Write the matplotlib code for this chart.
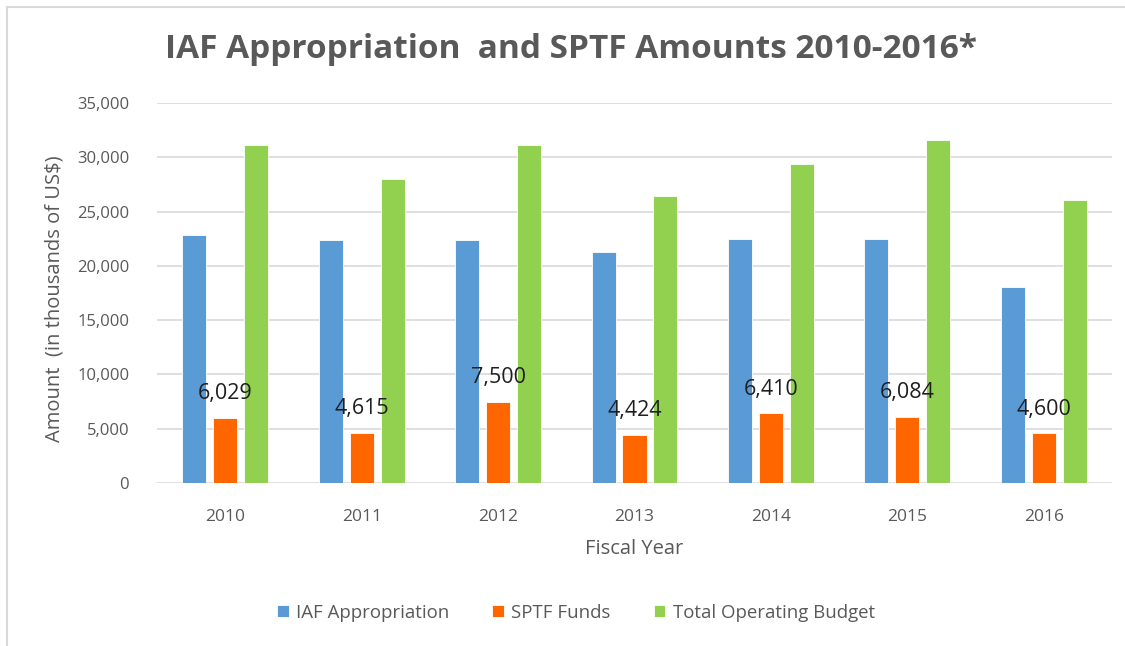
import matplotlib
matplotlib.use("Agg")
import matplotlib.pyplot as plt
from matplotlib.lines import Line2D
import numpy as np

years = ["2010", "2011", "2012", "2013", "2014", "2015", "2016"]
iaf_appropriation = [22850, 22350, 22350, 21300, 22500, 22500, 18050]
sptf_funds = [6029, 4615, 7500, 4424, 6410, 6084, 4600]
total_operating = [31100, 28000, 31100, 26450, 29350, 31550, 26100]
series_names = ["IAF Appropriation", "SPTF Funds", "Total Operating Budget"]
yticks = [0, 5000, 10000, 15000, 20000, 25000, 30000, 35000]

colors = ["#5B9BD5", "#FF6600", "#92D050"]
grey = "#595959"
font = "Open Sans"

W, H = 1125, 646
fig = plt.figure(figsize=(W / 100, H / 100), dpi=100)
fig.patch.set_facecolor("white")
ax = fig.add_axes([157 / W, (H - 483) / H, (1112 - 157) / W, (483 - 103) / H])

x = np.arange(len(years))
bw = 0.176
off = 0.227
for i, (vals, c, name) in enumerate(zip([iaf_appropriation, sptf_funds, total_operating], colors, series_names)):
    bars = ax.bar(x + (i - 1) * off, vals, width=bw, color=c, edgecolor="white",
                  linewidth=0.6, label=name, zorder=3)
    if i == 1:
        for b, v in zip(bars, vals):
            ax.annotate(f"{v:,}", (b.get_x() + b.get_width() / 2, v),
                        xytext=(0, 24), textcoords="offset pixels",
                        ha="center", va="center", fontsize=15.5,
                        color="#1f1f1f", family=font, zorder=4)

ax.set_xlim(-0.5, len(years) - 0.5)
ax.set_ylim(0, 35000)
ax.set_yticks(yticks)
ax.set_yticklabels([f"{t:,}" for t in yticks])
ax.set_xticks(x)
ax.set_xticklabels(years)
ax.grid(axis="y", color="#D9D9D9", linewidth=1.2, zorder=0)
ax.set_axisbelow(True)
for s in ax.spines.values():
    s.set_visible(False)
ax.tick_params(axis="both", length=0, colors=grey, labelsize=12)
ax.tick_params(axis="x", labelsize=12.5)
ax.tick_params(axis="y", pad=20)
ax.tick_params(axis="x", pad=19)
for lab in ax.get_xticklabels() + ax.get_yticklabels():
    lab.set_family(font)

fig.text(55 / W, 1 - 299 / H, "Amount  (in thousands of US$)", rotation=90,
         ha="center", va="center", fontsize=14.5, color=grey, family=font)
fig.text(634 / W, 1 - 549 / H, "Fiscal Year", ha="center", va="center",
         fontsize=14.5, color=grey, family=font)
fig.text(571 / W, 1 - 50 / H, "IAF Appropriation  and SPTF Amounts 2010-2016*",
         ha="center", va="center", fontsize=24, fontweight="bold", color=grey, family=font)

leg = fig.legend(loc="center", bbox_to_anchor=(576 / W, 1 - 613 / H), ncol=3,
                 frameon=False, handlelength=0.62, handleheight=0.62,
                 handletextpad=0.4, columnspacing=2.3,
                 prop={"family": font, "size": 13.4})
for t in leg.get_texts():
    t.set_color(grey)

fig.add_artist(Line2D([7 / W, 7 / W], [0, 1 - 7 / H], color="#D9D9D9", linewidth=1.5))
fig.add_artist(Line2D([7 / W, 1], [1 - 7 / H, 1 - 7 / H], color="#D9D9D9", linewidth=1.5))

fig.savefig("out.png", dpi=100, facecolor="white")
